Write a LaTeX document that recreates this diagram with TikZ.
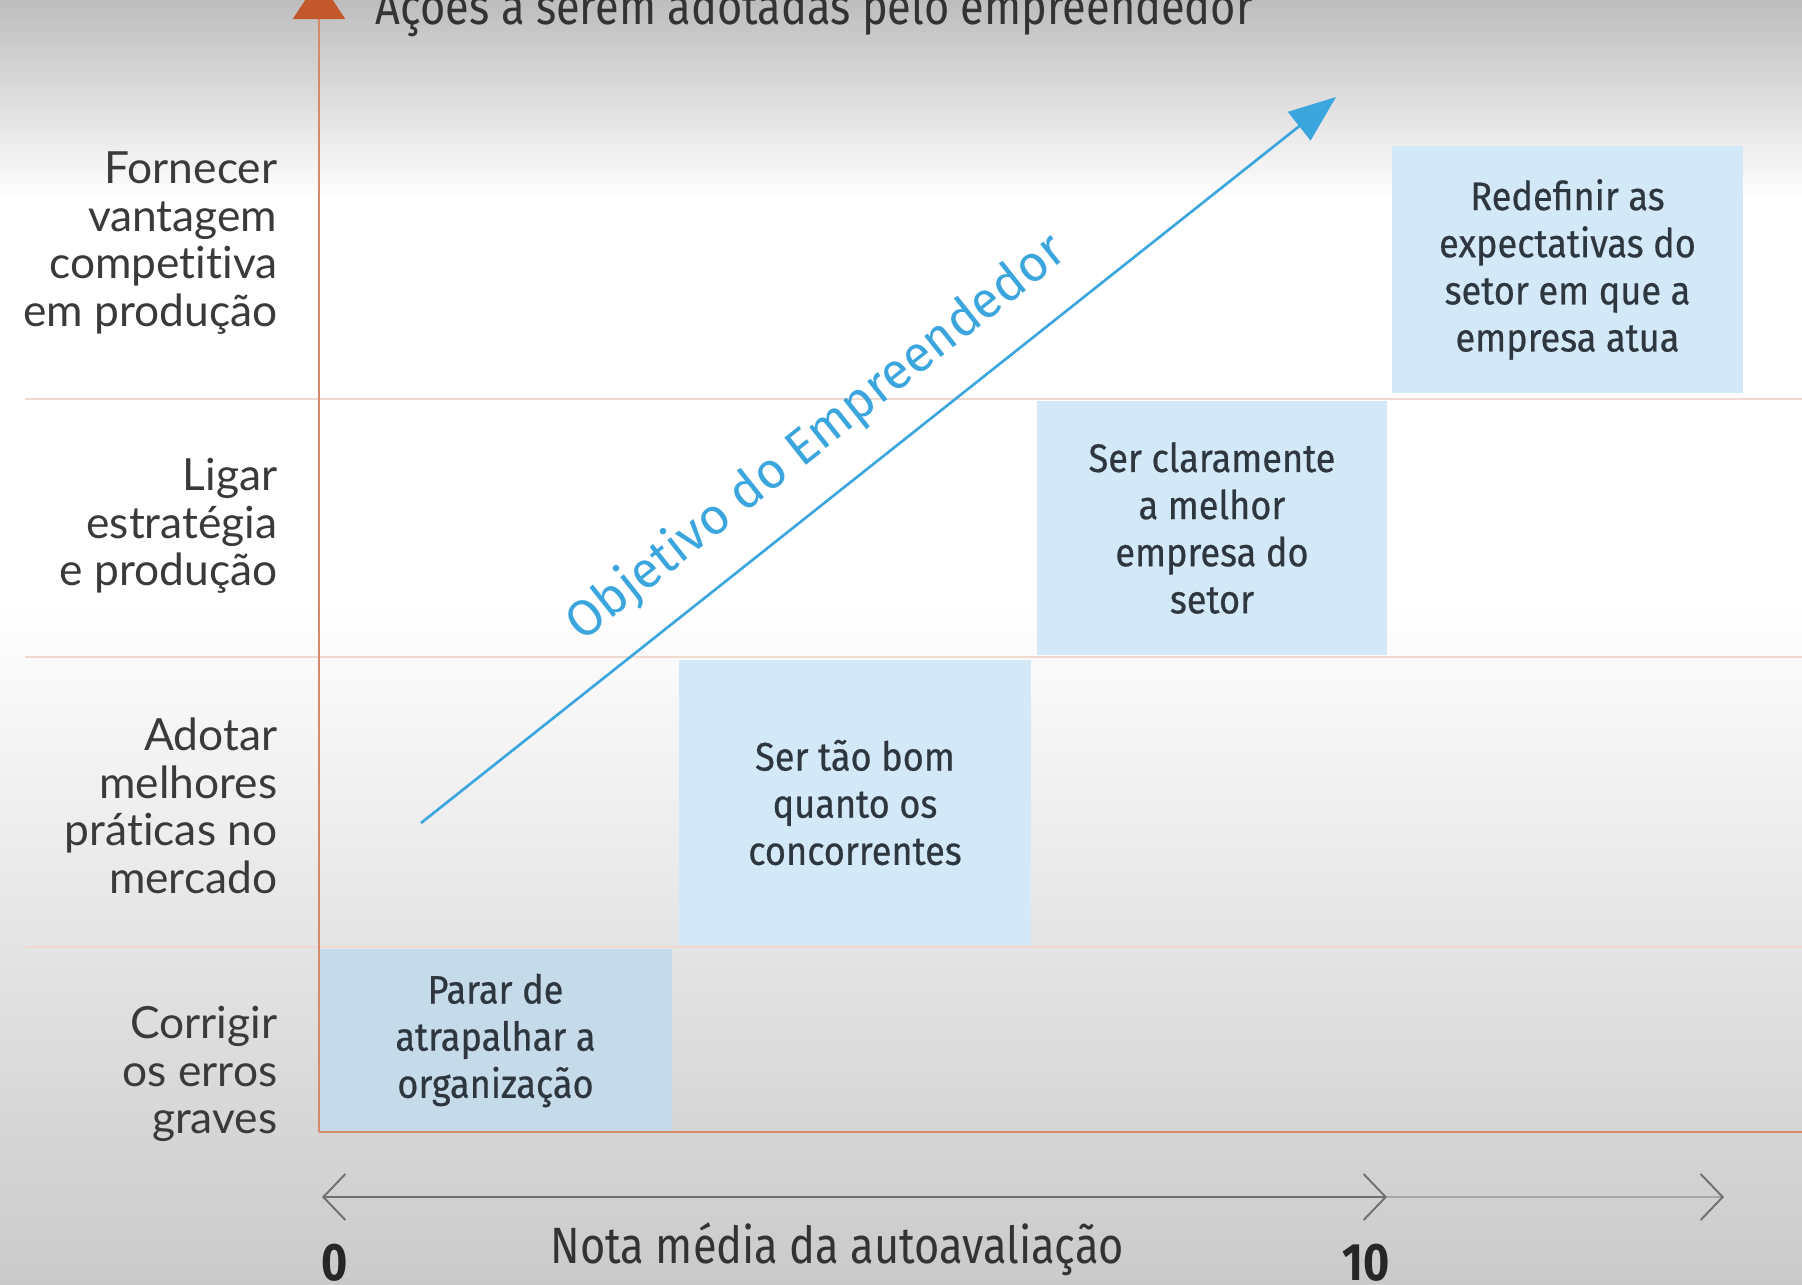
\documentclass[tikz,border=0pt]{standalone}
\usepackage{fontspec}
\setmainfont[Ligatures={NoCommon}]{Lato}
\newfontfamily\caixafont[FakeStretch=0.91, FakeBold=0.5]{Fira Sans}
\newfontfamily\metafont{Fira Sans}
\newfontfamily\estreitafont[FakeStretch=0.85]{Fira Sans}
\usetikzlibrary{arrows.meta}
\usetikzlibrary{positioning}
\definecolor{fundotopo}{HTML}{BDBDBD}
\definecolor{fundobase}{HTML}{CACACA}
\definecolor{eixolaranja}{HTML}{D68A6A}
\definecolor{pontalaranja}{HTML}{C4582D}
\definecolor{linhagrade}{HTML}{EFD8D0}
\definecolor{caixaazul}{HTML}{D4E9F7}
\definecolor{caixaescura}{HTML}{C6DBEA}
\definecolor{azulmeta}{HTML}{3BA6DE}
\definecolor{textocinza}{HTML}{3A3A3A}
\definecolor{textoazul}{HTML}{2E3640}
\definecolor{cinzaescala}{HTML}{707070}
\definecolor{cinzaclaro}{HTML}{A8A8A8}
\tikzset{
rotulo/.style = {anchor=east, align=right, inner sep=0pt, text=textocinza,
                 font=\fontsize{12.6}{13.5}\selectfont},
acao/.style = {fill=#1, align=center, inner sep=0pt, text=textoazul,
               font=\caixafont\fontsize{11.3}{13.4}\selectfont},
acao/.default = caixaazul,
legenda/.style = {inner sep=0pt, text=black!80,
                  font=\estreitafont\fontsize{14.5}{17}\selectfont},
numero/.style = {anchor=base, inner sep=0pt, text=black!85,
                 font=\estreitafont\bfseries\fontsize{15}{18}\selectfont},
linha/.style = {draw=linhagrade, line width=0.45pt},
eixo/.style = {draw=eixolaranja, line width=0.6pt},
meta/.style = {draw=azulmeta, line width=0.75pt,
               -{Triangle[length=0.47cm,width=0.36cm,color=azulmeta]}},
metatexto/.style = {sloped, above=0.29cm, inner sep=0pt, text=azulmeta,
                    font=\metafont\fontsize{14.4}{16}\selectfont},
escala/.style = {line width=0.55pt},
barb/.tip = {Straight Barb[length=0.22cm,width=0.46cm,color=cinzaescala]}
}
\newcommand{\nivel}[3]{\node[rotulo] (#1) at (#2) {#3};}
\newcommand{\acaobox}[5]{\node[acao, minimum width=#3, minimum height=#4] (#1) at (#2) {#5};}

\begin{document}
\begin{tikzpicture}[x=0.01cm, y=-0.01cm]
        \useasboundingbox (0,0) rectangle (1802,1284);
        \clip (0,0) rectangle (1802,1284);
        % fundo
        \fill[white] (0,0) rectangle (1802,1284);
        \shade[top color=fundotopo, bottom color=white] (0,0) rectangle (1802,200);
        \shade[top color=white, bottom color=fundobase] (0,600) rectangle (1802,1284);
        \foreach \y in {399,657,947} \draw[linha] (25,\y) -- (1802,\y);
        % niveis
        \nivel{n4}{278,243}{Fornecer\\vantagem\\competitiva\\em produção}
        \nivel{n3}{278,526}{Ligar\\estratégia\\e produção}
        \nivel{n2}{278,806}{Adotar\\melhores\\práticas no\\mercado}
        \nivel{n1}{278,1074}{Corrigir\\os erros\\graves}
        % acoes
        \node[acao=caixaescura, minimum width=3.53cm, minimum height=1.83cm] (a1) at (495.5,1040.5) {Parar de\\atrapalhar a\\organização};
        \acaobox{a2}{855,802.5}{3.52cm}{2.85cm}{Ser tão bom\\quanto os\\concorrentes}
        \acaobox{a3}{1212,528}{3.50cm}{2.54cm}{Ser claramente\\a melhor\\empresa do\\setor}
        \acaobox{a4}{1567.5,269.5}{3.51cm}{2.47cm}{Redefinir as\\expectativas do\\setor em que a\\empresa atua}
        % eixos
        \coordinate (origem) at (319,1132);
        \coordinate (topo) at (319,-21);
        \coordinate (fimx) at (1802,1132);
        \draw[eixo, -{Triangle[length=0.40cm,width=0.52cm,color=pontalaranja]}] (origem) -- (topo);
        \draw[eixo] (origem) -- (fimx);
        \node[legenda, anchor=base west] (titulo) at (375,24) {Ações a serem adotadas pelo empreendedor};
        % objetivo
        \coordinate (ms) at (421,823);
        \coordinate (mt) at (1336,97);
        \draw[meta] (ms) -- node[metatexto, pos=0.47] (objetivo) {Objetivo do Empreendedor} (mt);
        % escala
        \coordinate (e0) at (322,1197);
        \coordinate (e10) at (1387,1197);
        \coordinate (efim) at (1724,1197);
        \draw[escala, draw=cinzaescala, {barb}-{barb}] (e0) -- (e10);
        \draw[escala, draw=cinzaclaro, -{barb}] (e10) -- (efim);
        \node[numero] (zero) at (335,1280) {0};
        \node[numero] (dez) at (1366,1280) {10};
        \node[legenda, anchor=base west] (nota) at (550,1263) {Nota média da autoavaliação};
\end{tikzpicture}
\end{document}
